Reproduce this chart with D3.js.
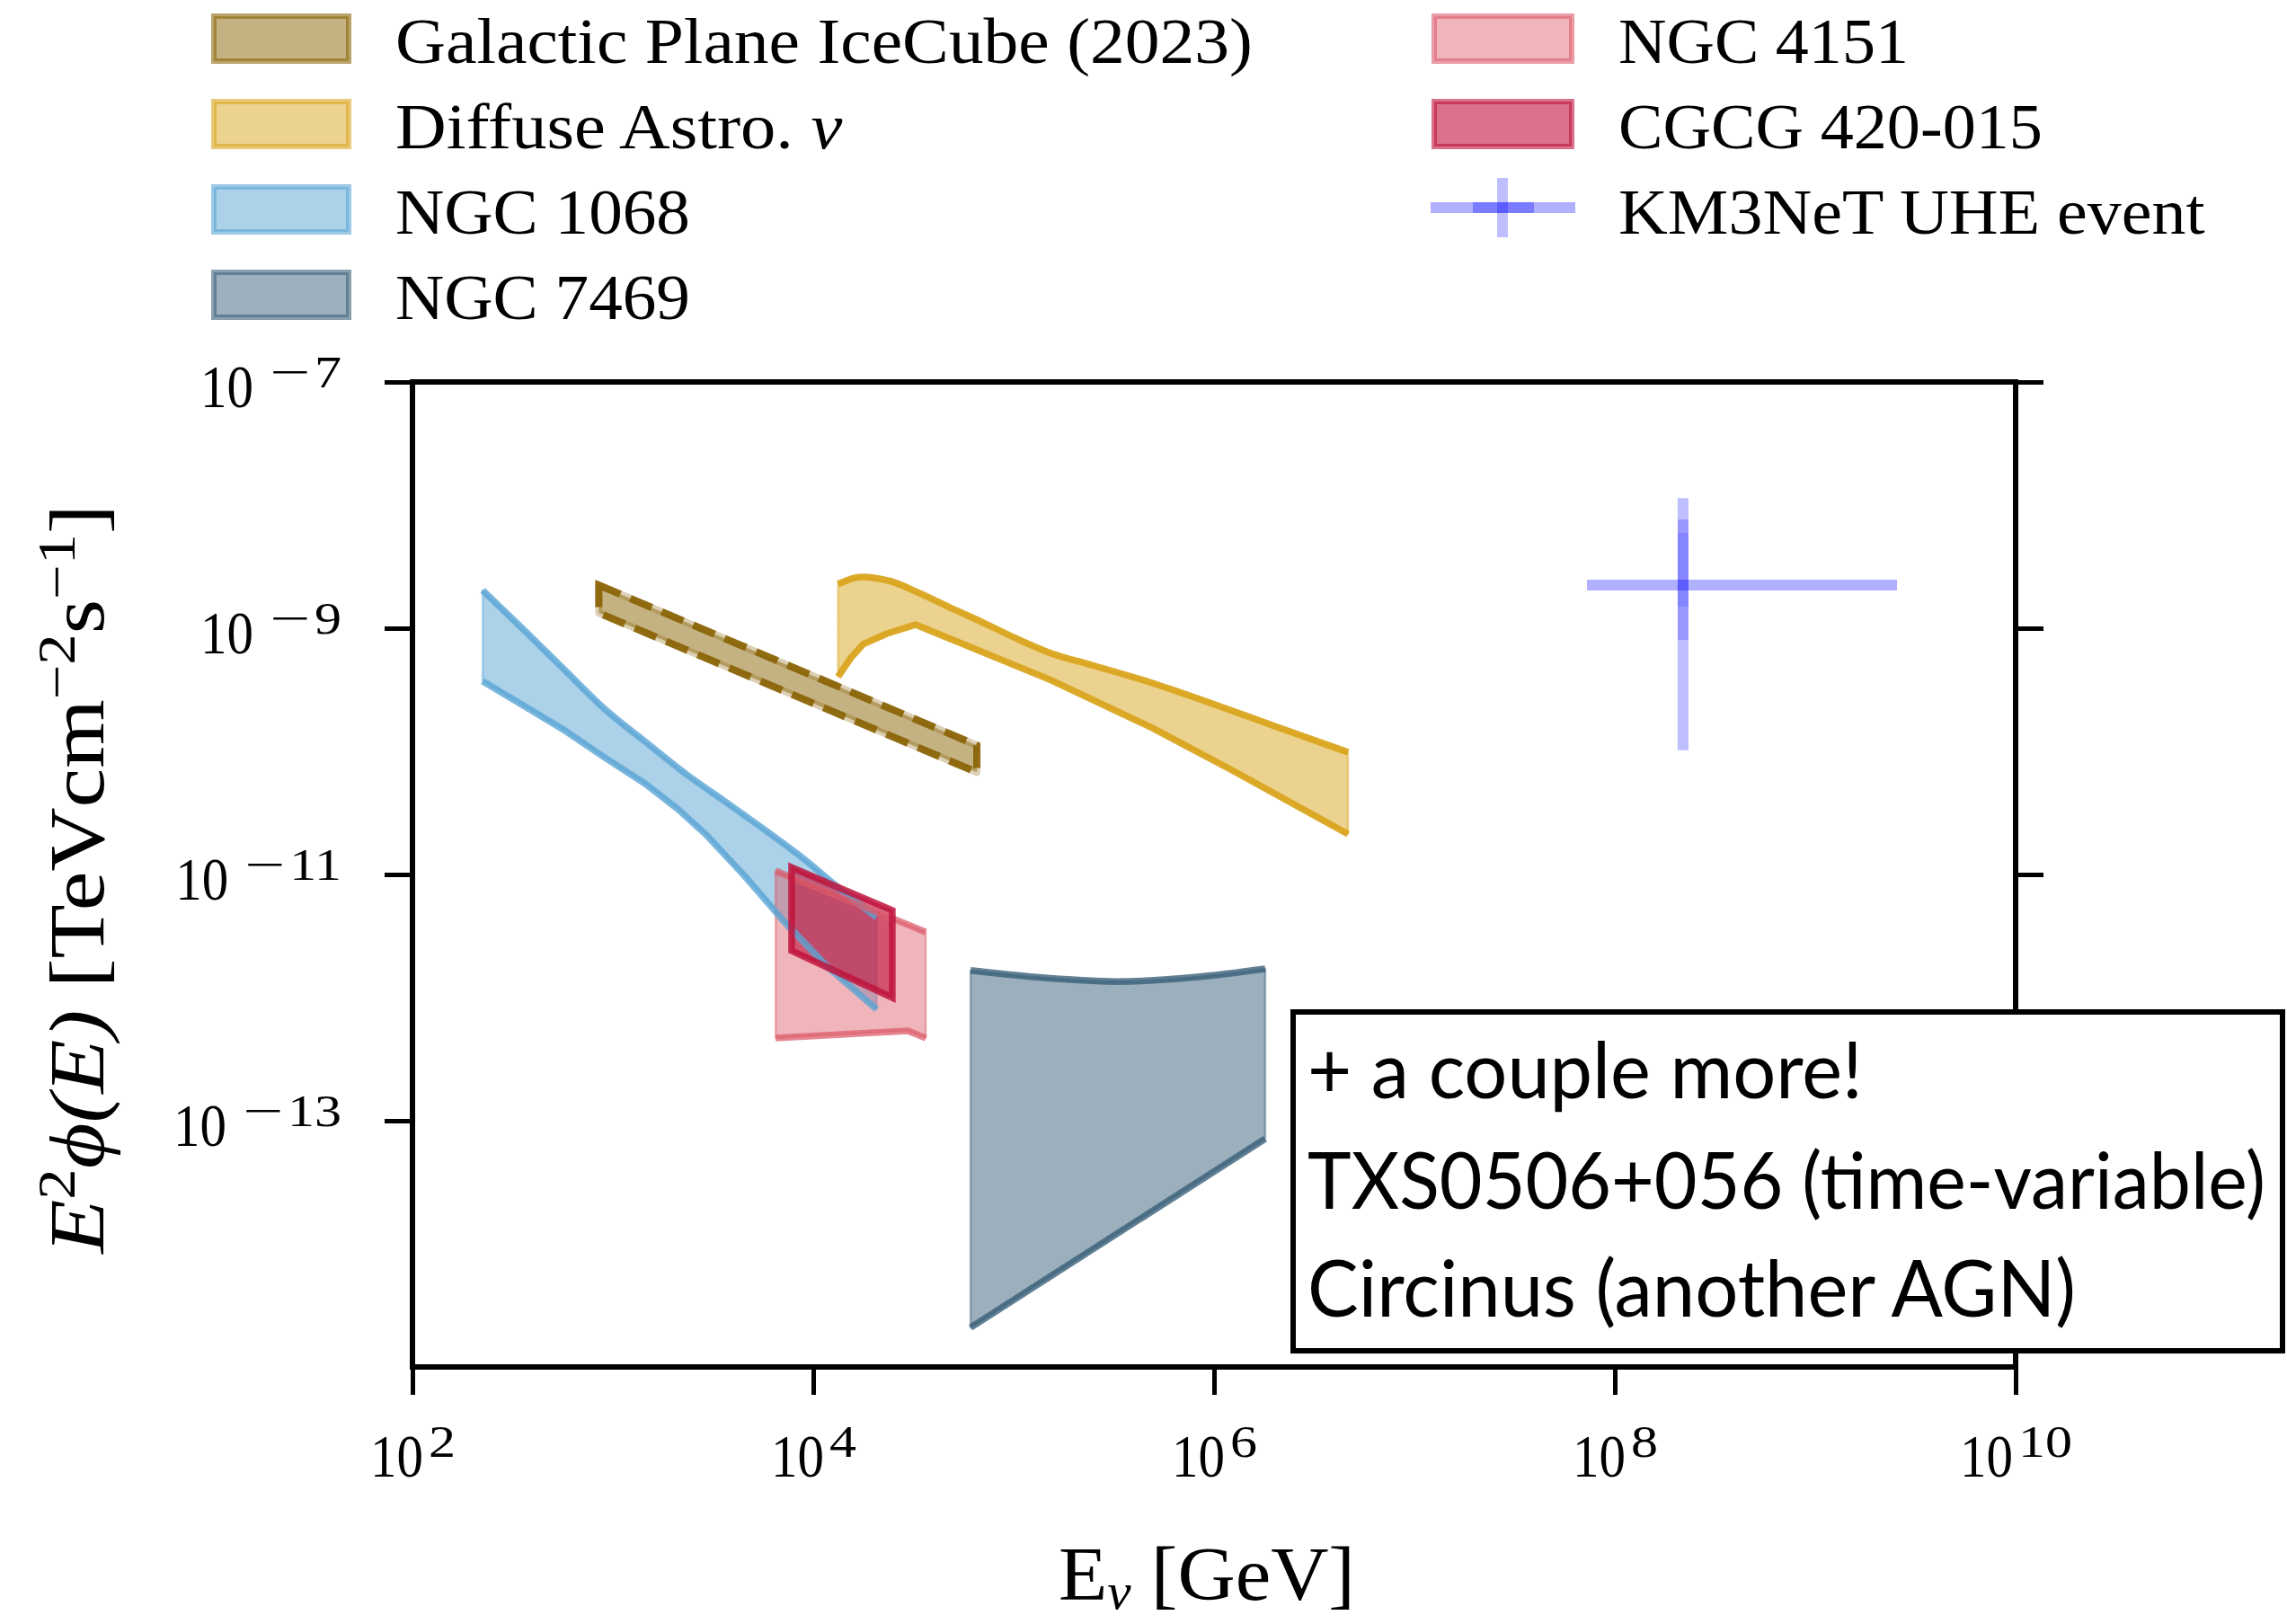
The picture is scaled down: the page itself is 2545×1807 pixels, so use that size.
<!DOCTYPE html>
<html>
<head>
<meta charset="utf-8">
<script src="https://cdn.jsdelivr.net/npm/d3@7"></script>
<style>
  html, body { margin: 0; padding: 0; background: #fff; }
  svg { display: block; }
</style>
</head>
<body>
<svg id="chart" width="2545" height="1807"></svg>
<script>
// ---- axis setup ----
const xDomain = [1e2, 1e10];
const yDomain = [1e-15, 1e-7];
const xTicks = [1e2, 1e4, 1e6, 1e8, 1e10];
const yTicks = [1e-7, 1e-9, 1e-11, 1e-13];

// ---- flux bands: [energy GeV, E^2 flux TeV cm^-2 s^-1] ----
const galUpper = [[851, 2.24e-9], [6.55e4, 1.12e-10]];
const galLower = [[851, 1.33e-9], [6.55e4, 6.76e-11]];

const diffUpper = [[1.33e4, 2.28e-9], [1.73e4, 2.61e-9], [2.45e4, 2.40e-9], [3.38e4, 1.93e-9],
  [4.91e4, 1.45e-9], [7.05e4, 1.11e-9], [1.02e5, 8.32e-10], [1.54e5, 6.25e-10], [2.45e5, 5.02e-10],
  [4.91e5, 3.59e-10], [9.79e5, 2.44e-10], [1.95e6, 1.63e-10], [4.66e6, 9.84e-11]];
const diffLower = [[1.33e4, 4.04e-10], [1.54e4, 5.74e-10], [1.77e4, 7.40e-10], [2.33e4, 9.04e-10],
  [3.24e4, 1.07e-9], [1.54e5, 3.78e-10], [4.91e5, 1.55e-10], [1.23e6, 7.03e-11], [4.66e6, 2.13e-11]];

const n1068Upper = [[224, 2.03e-9], [364, 9.51e-10], [578, 4.54e-10], [912, 2.20e-10], [1449, 1.20e-10],
  [2307, 6.58e-11], [3640, 3.90e-11], [5780, 2.28e-11], [9120, 1.31e-11], [1.32e4, 7.91e-12], [2.07e4, 4.5e-12]];
const n1068Lower = [[224, 3.71e-10], [364, 2.32e-10], [578, 1.47e-10], [912, 8.89e-11], [1449, 5.46e-11],
  [2104, 3.41e-11], [2897, 2.13e-11], [4560, 9.66e-12], [7260, 4.04e-12], [1.156e4, 1.83e-12], [2.07e4, 8.04e-13]];

const n4151Upper = [[6490, 1.07e-11], [3.64e4, 3.41e-12]];
const n4151Lower = [[6490, 4.70e-13], [2.96e4, 5.37e-13], [3.64e4, 4.70e-13]];

const cgcgUpper = [[7800, 1.14e-11], [2.48e4, 5.10e-12]];
const cgcgLower = [[7800, 2.40e-12], [2.48e4, 1.0e-12]];

const n7469Upper = [[6.10e4, 1.66e-12], [1.26e5, 1.47e-12], [3.28e5, 1.35e-12], [8.30e5, 1.47e-12], [1.80e6, 1.71e-12]];
const n7469Lower = [[6.10e4, 2.09e-15], [1.80e6, 7.14e-14]];

// ---- KM3NeT ultra-high-energy event ----
const km3Energy = 2.19e8;
const km3EnergyRange = [7.26e7, 2.56e9];
const km3Flux = 2.24e-9;
const km3FluxRanges = [[1.02e-10, 1.14e-8], [8.04e-10, 7.64e-9], [1.50e-9, 5.94e-9]];

// ---- legend and note text ----
const legendLeft = ["Galactic Plane IceCube (2023)", "Diffuse Astro. ", "NGC 1068", "NGC 7469"];
const legendRight = ["NGC 4151", "CGCG 420-015", "KM3NeT UHE event"];
const noteLines = ["+ a couple more!", "TXS0506+056 (time-variable)", "Circinus (another AGN)"];

// ---------------------------------------------------------------
const W = 2545, H = 1807;
const plot = { left: 459, right: 2243, top: 425, bottom: 1521 };
const SERIF = "'Liberation Serif', 'Times New Roman', serif";
const SANS = "Lato, 'Open Sans', sans-serif";

const x = d3.scaleLog().domain(xDomain).range([plot.left, plot.right]);
const y = d3.scaleLog().domain(yDomain).range([plot.bottom, plot.top]);

const svg = d3.select("#chart");
svg.append("rect").attr("width", W).attr("height", H).attr("fill", "#fff");

// scale a text horizontally so that it spans the given width
function fitText(t, width, pre) {
  const w = t.node().getBBox().width;
  const s = width / w;
  t.attr("transform", `${pre} scale(${s},1)`);
}

const bands = [
  { key: "gal", upper: galUpper, lower: galLower, color: "#8b6508", fillOp: 0.5, lineOp: 0.95, dashed: true, curve: d3.curveLinear },
  { key: "diff", upper: diffUpper, lower: diffLower, color: "#daa520", fillOp: 0.5, lineOp: 0.95, curve: d3.curveMonotoneX },
  { key: "n1068", upper: n1068Upper, lower: n1068Lower, color: "#5aa5d4", fillOp: 0.5, lineOp: 0.8, curve: d3.curveMonotoneX },
  { key: "n4151", upper: n4151Upper, lower: n4151Lower, color: "#dc5a69", fillOp: 0.45, lineOp: 0.72, curve: d3.curveLinear },
  { key: "cgcg", upper: cgcgUpper, lower: cgcgLower, color: "#c0143c", fillOp: 0.6, lineOp: 0.85, closed: true, curve: d3.curveLinear },
  { key: "n7469", upper: n7469Upper, lower: n7469Lower, color: "#3a6079", fillOp: 0.5, lineOp: 0.8, curve: d3.curveMonotoneX }
];

const lineLin = d3.line().x(d => x(d[0])).y(d => y(d[1]));
function bandPath(b) {
  const up = d3.line().x(d => x(d[0])).y(d => y(d[1])).curve(b.curve)(b.upper);
  const low = lineLin(b.lower.slice().reverse());
  return up + "L" + low.slice(1) + "Z";
}

const LW = 7.5;
const marks = svg.append("g");
// fills first
bands.forEach(b => {
  marks.append("path")
    .attr("d", bandPath(b))
    .attr("fill", b.color).attr("fill-opacity", b.fillOp)
    .attr("stroke", b.color).attr("stroke-opacity", b.dashed ? 0.3 : 0.45)
    .attr("stroke-width", b.dashed ? 8 : 2.5)
    .attr("stroke-linejoin", "round");
});
// boundary lines on top
bands.forEach(b => {
  if (b.dashed) {
    marks.append("path")
      .attr("d", bandPath(b))
      .attr("fill", "none").attr("stroke", b.color).attr("stroke-opacity", b.lineOp)
      .attr("stroke-width", 8).attr("stroke-dasharray", "26,12");
  } else if (b.closed) {
    marks.append("path")
      .attr("d", bandPath(b))
      .attr("fill", "none").attr("stroke", b.color).attr("stroke-opacity", b.lineOp)
      .attr("stroke-width", LW).attr("stroke-linejoin", "miter");
  } else {
    const gen = d3.line().x(d => x(d[0])).y(d => y(d[1]));
    marks.append("path").attr("d", gen.curve(b.curve)(b.upper))
      .attr("fill", "none").attr("stroke", b.color).attr("stroke-opacity", b.lineOp)
      .attr("stroke-width", LW).attr("stroke-linejoin", "round");
    marks.append("path").attr("d", gen.curve(d3.curveLinear)(b.lower))
      .attr("fill", "none").attr("stroke", b.color).attr("stroke-opacity", b.lineOp)
      .attr("stroke-width", LW).attr("stroke-linejoin", "round");
  }
});

// KM3NeT error bars
const km3 = marks.append("g");
km3.append("line")
  .attr("x1", x(km3EnergyRange[0])).attr("x2", x(km3EnergyRange[1]))
  .attr("y1", y(km3Flux)).attr("y2", y(km3Flux))
  .attr("stroke", "#0000ff").attr("stroke-opacity", 0.31).attr("stroke-width", 12);
const flOps = [0.25, 0.2, 0.12];
km3FluxRanges.forEach((r, i) => {
  km3.append("line")
    .attr("x1", x(km3Energy)).attr("x2", x(km3Energy))
    .attr("y1", y(r[0])).attr("y2", y(r[1]))
    .attr("stroke", "#0000ff").attr("stroke-opacity", flOps[i]).attr("stroke-width", 12);
});

// ---- axes ----
function styleAxis(g) {
  g.attr("font-family", SERIF).attr("font-size", null).attr("text-anchor", null);
  g.select(".domain").remove();
  g.selectAll(".tick line").attr("stroke", "#000").attr("stroke-width", 5);
  g.selectAll(".tick text").remove();
}

// power-of-ten label built from separate pieces: "10", optional minus, exponent digits
function powerLabel(parent, d, anchor, px, py) {
  const e = Math.round(Math.log10(d));
  const g = parent.append("g").attr("font-family", SERIF).attr("fill", "#000")
    .attr("text-anchor", "start");
  const pieces = [{ s: "10", size: 67, sx: 0.88, dy: 0, gap: e < 0 ? 18 : 6 }];
  if (e < 0) pieces.push({ s: "\u2212", size: 50, sx: 1.6, dy: -22, gap: 5 });
  pieces.push({ s: String(Math.abs(e)), size: 50, sx: 1.2, dy: -22, gap: 0 });
  let cx = 0;
  pieces.forEach(p => {
    const t = g.append("text").attr("font-size", p.size).attr("text-anchor", "start").text(p.s)
      .attr("transform", `translate(${cx},${p.dy}) scale(${p.sx},1)`);
    cx += t.node().getComputedTextLength() * p.sx + p.gap;
  });
  const shift = anchor === "end" ? -cx : -cx / 2;
  g.attr("transform", `translate(${px + shift},${py})`);
}

const gx = svg.append("g").attr("transform", `translate(0,${plot.bottom})`)
  .call(d3.axisBottom(x).tickValues(xTicks).tickSize(31).tickFormat(() => ""));
styleAxis(gx);
gx.selectAll(".tick").each(function (d) {
  powerLabel(d3.select(this), d, "middle", 0, 122);
});

const gy = svg.append("g").attr("transform", `translate(${plot.left},0)`)
  .call(d3.axisLeft(y).tickValues(yTicks).tickSize(31).tickFormat(() => ""));
styleAxis(gy);
gy.selectAll(".tick").each(function (d) {
  powerLabel(d3.select(this), d, "end", -79, 27);
});

const gyr = svg.append("g").attr("transform", `translate(${plot.right},0)`)
  .call(d3.axisRight(y).tickValues(yTicks).tickSize(31).tickFormat(() => ""));
styleAxis(gyr);

// frame
svg.append("rect")
  .attr("x", plot.left).attr("y", plot.top)
  .attr("width", plot.right - plot.left).attr("height", plot.bottom - plot.top)
  .attr("fill", "none").attr("stroke", "#000").attr("stroke-width", 6);

// axis titles
const xt = svg.append("text")
  .attr("font-family", SERIF).attr("font-size", 84).attr("fill", "#000");
xt.append("tspan").text("E");
xt.append("tspan").attr("dy", 10).attr("font-size", 56).attr("font-style", "italic").text("\u03bd");
xt.append("tspan").attr("dy", -10).text(" [GeV]");
fitText(xt, 330, "translate(1178,1780)");

const yt = svg.append("text")
  .attr("text-anchor", "middle")
  .attr("font-family", SERIF).attr("font-size", 86).attr("fill", "#000");
yt.append("tspan").attr("font-style", "italic").text("E");
yt.append("tspan").attr("dy", -32).attr("font-size", 60).text("2");
yt.append("tspan").attr("dy", 32).attr("font-style", "italic").text("\u03d5(E)");
yt.append("tspan").text(" [TeVcm");
yt.append("tspan").attr("dy", -32).attr("font-size", 60).text("\u22122");
yt.append("tspan").attr("dy", 32).text("s");
yt.append("tspan").attr("dy", -32).attr("font-size", 60).text("\u22121");
yt.append("tspan").attr("dy", 32).text("]");
fitText(yt, 836, "translate(115,978) rotate(-90)");

// ---- legend ----
const rowY = [43, 138, 233, 328];
const leg = svg.append("g").attr("font-family", SERIF).attr("font-size", 71).attr("fill", "#000");
const leftWidths = [954, 498, 328, 328];
const leftBands = ["gal", "diff", "n1068", "n7469"];
legendLeft.forEach((label, i) => {
  const b = bands.find(bb => bb.key === leftBands[i]);
  leg.append("rect").attr("x", 238).attr("y", rowY[i] - 25).attr("width", 150).attr("height", 50)
    .attr("fill", b.color).attr("fill-opacity", b.fillOp)
    .attr("stroke", b.color).attr("stroke-opacity", 0.6).attr("stroke-width", 6);
  const t = leg.append("text");
  t.append("tspan").text(label);
  if (i === 1) t.append("tspan").attr("font-style", "italic").text("\u03bd");
  fitText(t, leftWidths[i], `translate(440,${rowY[i] + 27})`);
});
const rightWidths = [323, 472, 653];
const rightBands = ["n4151", "cgcg"];
legendRight.forEach((label, i) => {
  if (i < 2) {
    const b = bands.find(bb => bb.key === rightBands[i]);
    leg.append("rect").attr("x", 1596).attr("y", rowY[i] - 25).attr("width", 153).attr("height", 50)
      .attr("fill", b.color).attr("fill-opacity", b.fillOp)
      .attr("stroke", b.color).attr("stroke-opacity", 0.6).attr("stroke-width", 6);
  } else {
    const cy = rowY[2] - 2;
    leg.append("line").attr("x1", 1592).attr("x2", 1753).attr("y1", cy).attr("y2", cy)
      .attr("stroke", "#0000ff").attr("stroke-opacity", 0.31).attr("stroke-width", 12);
    leg.append("line").attr("x1", 1639).attr("x2", 1707).attr("y1", cy).attr("y2", cy)
      .attr("stroke", "#0000ff").attr("stroke-opacity", 0.3).attr("stroke-width", 12);
    leg.append("line").attr("x1", 1672).attr("x2", 1672).attr("y1", cy - 33).attr("y2", cy + 33)
      .attr("stroke", "#0000ff").attr("stroke-opacity", 0.25).attr("stroke-width", 12);
  }
  const t = leg.append("text").text(label);
  fitText(t, rightWidths[i], `translate(1801,${rowY[i] + 27})`);
});

// ---- note box ----
const note = svg.append("g");
note.append("rect").attr("x", 1439).attr("y", 1126).attr("width", 1101).attr("height", 377)
  .attr("fill", "#fff").attr("stroke", "#000").attr("stroke-width", 6);
const noteY = [1222, 1345, 1465];
const noteW = [618, 1066, 855];
noteLines.forEach((s, i) => {
  const t = note.append("text")
    .attr("font-family", SANS).attr("font-size", 88).attr("fill", "#000")
    .text(s);
  fitText(t, noteW[i], `translate(1455,${noteY[i]})`);
});
</script>
</body>
</html>
